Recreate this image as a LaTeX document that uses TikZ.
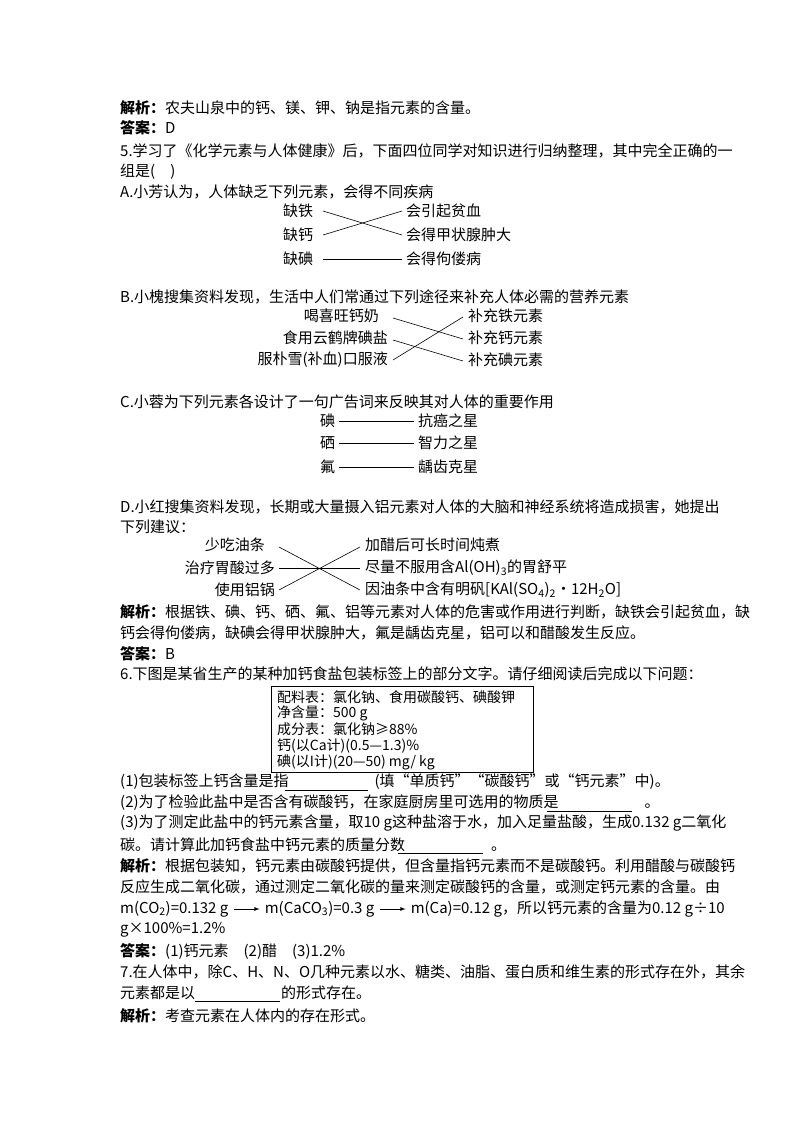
\documentclass[tikz,border=0pt]{standalone}
\usepackage{fontspec}
\usetikzlibrary{positioning}
\setmainfont{Noto Sans CJK SC}
\begin{document}
\begin{tikzpicture}[x=1pt,y=-1pt,
  t/.style={anchor=west,inner sep=0pt,font=\fontsize{15}{16}\selectfont},
  te/.style={anchor=east,inner sep=0pt,font=\fontsize{15}{16}\selectfont},
  tb/.style={anchor=west,inner sep=0pt,font=\fontsize{14}{16}\selectfont},
  ln/.style={line width=0.6pt},
  blank/.style={line width=0.5pt}]
\useasboundingbox[fill=white] (0,0) rectangle (800,1132);
\node[t] (l1) at (120,108) {\textbf{解析：}农夫山泉中的钙、镁、钾、钠是指元素的含量。};
\node[t] (l2) at (120,128) {\textbf{答案：}D};
\node[t] (l3) at (120,151) {5.学习了《化学元素与人体健康》后，下面四位同学对知识进行归纳整理，其中完全正确的一};
\node[t] (l4) at (120,172) {组是(\quad)};
\node[t] (l5) at (120,192) {A.小芳认为，人体缺乏下列元素，会得不同疾病};
% A
\node[t] (a1) at (283,211) {缺铁};
\node[t] (a2) at (283,235) {缺钙};
\node[t] (a3) at (283,259) {缺碘};
\node[t] (b1) at (406,211) {会引起贫血};
\node[t] (b2) at (406,235) {会得甲状腺肿大};
\node[t] (b3) at (406,259) {会得佝偻病};
\draw[ln] (323,211) -- (402,235);
\draw[ln] (323,235) -- (402,211);
\draw[ln] (323,259) -- (402,259);
% B
\node[t] (l6) at (120,297) {B.小槐搜集资料发现，生活中人们常通过下列途径来补充人体必需的营养元素};
\node[te] (c1) at (379,316) {喝喜旺钙奶};
\node[te] (c2) at (388,338) {食用云鹤牌碘盐};
\node[te] (c3) at (388,360) {服朴雪(补血)口服液};
\node[t] (d1) at (468,316) {补充铁元素};
\node[t] (d2) at (468,338) {补充钙元素};
\node[t] (d3) at (468,360) {补充碘元素};
\draw[ln] (393,318) -- (463,339);
\draw[ln] (393,340) -- (463,361);
\draw[ln] (393,360) -- (463,317);
% C
\node[t] (l7) at (120,402) {C.小蓉为下列元素各设计了一句广告词来反映其对人体的重要作用};
\node[t] (e1) at (320,421) {碘};
\node[t] (e2) at (320,443) {硒};
\node[t] (e3) at (320,467) {氟};
\node[t] (f1) at (418,421) {抗癌之星};
\node[t] (f2) at (418,443) {智力之星};
\node[t] (f3) at (418,467) {龋齿克星};
\draw[ln] (339,421) -- (414,421);
\draw[line width=1pt] (339,443) -- (414,443);
\draw[ln] (339,467) -- (414,467);
% D
\node[t] (l8) at (120,507) {D.小红搜集资料发现，长期或大量摄入铝元素对人体的大脑和神经系统将造成损害，她提出};
\node[t] (l9) at (120,527) {下列建议：};
\node[te] (g1) at (265,545) {少吃油条};
\node[te] (g2) at (275,568) {治疗胃酸过多};
\node[te] (g3) at (275,590) {使用铝锅};
\node[t] (h1) at (365,545) {加醋后可长时间炖煮};
\node[t] (h2) at (365,568) {尽量不服用含Al(OH)\textsubscript{3}的胃舒平};
\node[t] (h3) at (365,590) {因油条中含有明矾[KAl(SO\textsubscript{4})\textsubscript{2}·12H\textsubscript{2}O]};
\draw[ln] (279,547) -- (360,590);
\draw[ln] (279,568) -- (360,568);
\draw[ln] (279,590) -- (360,547);
\node[t] (l10) at (120,612) {\textbf{解析：}根据铁、碘、钙、硒、氟、铝等元素对人体的危害或作用进行判断，缺铁会引起贫血，缺};
\node[t] (l11) at (120,633) {钙会得佝偻病，缺碘会得甲状腺肿大，氟是龋齿克星，铝可以和醋酸发生反应。};
\node[t] (l12) at (120,654) {\textbf{答案：}B};
\node[t] (l13) at (120,674) {6.下图是某省生产的某种加钙食盐包装标签上的部分文字。请仔细阅读后完成以下问题：};
% box
\draw[line width=0.6pt] (271,686) rectangle (533,772);
\node[tb] (k1) at (277,697) {配料表：氯化钠、食用碳酸钙、碘酸钾};
\node[tb] (k2) at (277,713) {净含量：500 g};
\node[tb] (k3) at (277,729) {成分表：氯化钠≥88\%};
\node[tb] (k4) at (277,746) {钙(以Ca计)(0.5—1.3)\%};
\node[tb] (k5) at (277,762) {碘(以I计)(20—50) mg/ kg};
\node[t] (q1) at (120,782) {(1)包装标签上钙含量是指\hspace{86pt}(填“单质钙”“碳酸钙”或“钙元素”中)。};
\draw[blank] (285,790) -- (368,790);
\node[t] (q2) at (120,803) {(2)为了检验此盐中是否含有碳酸钙，在家庭厨房里可选用的物质是\hspace{86pt}。};
\draw[blank] (547,811) -- (632,811);
\node[t] (q3) at (120,823) {(3)为了测定此盐中的钙元素含量，取10 g这种盐溶于水，加入足量盐酸，生成0.132 g二氧化};
\node[t] (q4) at (120,845) {碳。请计算此加钙食盐中钙元素的质量分数\hspace{86pt}。};
\draw[blank] (398,853) -- (483,853);
\node[t] (s1) at (120,866) {\textbf{解析：}根据包装知，钙元素由碳酸钙提供，但含量指钙元素而不是碳酸钙。利用醋酸与碳酸钙};
\node[t] (s2) at (120,887) {反应生成二氧化碳，通过测定二氧化碳的量来测定碳酸钙的含量，或测定钙元素的含量。由};
\node[t] (m1) at (120,909) {m(CO\textsubscript{2})=0.132 g};
\node[t,right=36pt of m1] (m2) {m(CaCO\textsubscript{3})=0.3 g};
\node[t,right=36pt of m2] (m3) {m(Ca)=0.12 g，所以钙元素的含量为0.12 g÷10};
\draw[-latex,line width=0.8pt] ([xshift=5pt]m1.east) -- ([xshift=-5pt]m2.west);
\draw[-latex,line width=0.8pt] ([xshift=5pt]m2.east) -- ([xshift=-5pt]m3.west);
\node[t] (s3) at (120,930) {g×100\%=1.2\%};
\node[t] (s4) at (120,951) {\textbf{答案：}(1)钙元素\quad(2)醋\quad(3)1.2\%};
\node[t] (s5) at (120,972) {7.在人体中，除C、H、N、O几种元素以水、糖类、油脂、蛋白质和维生素的形式存在外，其余};
\node[t] (s6) at (120,993) {元素都是以\hspace{86pt}的形式存在。};
\draw[blank] (195,1001) -- (280,1001);
\node[t] (s7) at (120,1016) {\textbf{解析：}考查元素在人体内的存在形式。};
\end{tikzpicture}
\end{document}
